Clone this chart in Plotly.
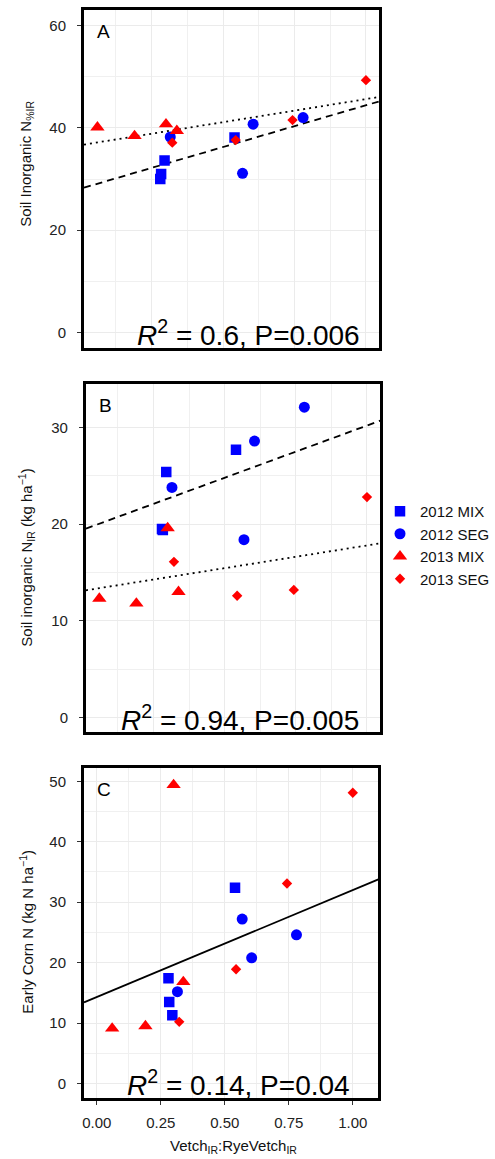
import plotly.graph_objects as go

W, H = 495, 1159

groups = ["2012 MIX", "2012 SEG", "2013 MIX", "2013 SEG"]

x_2012_mix = [0.28, 0.283, 0.295, 0.54]
x_2012_seg = [0.315, 0.568, 0.605, 0.78]
x_2013_mix = [0.06, 0.19, 0.30, 0.338]
x_2013_seg = [0.322, 0.544, 0.743, 1.0]

yA_2012_mix = [30.0, 31.0, 33.6, 38.1]
yA_2012_seg = [38.2, 31.1, 40.7, 42.0]
yA_2013_mix = [40.1, 38.4, 40.7, 39.4]
yA_2013_seg = [37.1, 37.6, 41.5, 49.3]

yB_2012_mix = [19.5, 19.4, 25.4, 27.7]
yB_2012_seg = [23.8, 18.4, 28.6, 32.1]
yB_2013_mix = [12.3, 11.8, 19.6, 13.0]
yB_2013_seg = [16.1, 12.6, 13.2, 22.8]

yC_2012_mix = [17.4, 13.5, 11.3, 32.4]
yC_2012_seg = [15.2, 27.2, 20.8, 24.6]
yC_2013_mix = [9.1, 9.5, 49.4, 16.8]
yC_2013_seg = [10.2, 18.9, 33.1, 48.1]

fitA_2012 = (28.1, 16.3)
fitA_2013 = (36.6, 9.0)
fitB_2012 = (19.4, 10.8)
fitB_2013 = (13.1, 4.7)
fitC_all = (14.3, 17.7)

stats_text = ["<i>R</i><sup>2</sup> = 0.6, P=0.006",
              "<i>R</i><sup>2</sup> = 0.94, P=0.005",
              "<i>R</i><sup>2</sup> = 0.14, P=0.04"]
panel_letters = ["A", "B", "C"]
y_titles = ["Soil Inorganic N<sub>%IR</sub>",
            "Soil inorganic N<sub>IR</sub> (kg ha<sup>\u22121</sup>)",
            "Early Corn N (kg N ha<sup>\u22121</sup>)"]
x_title = "Vetch<sub>IR</sub>:RyeVetch<sub>IR</sub>"
x_ticks = [0.0, 0.25, 0.5, 0.75, 1.0]
x_tick_labels = ["0.00", "0.25", "0.50", "0.75", "1.00"]

FONT = "Liberation Sans, Arial, sans-serif"
BLUE = "#0000FF"
RED = "#FF0000"
styles = {
    "2012 MIX": dict(symbol="square", size=10.5, color=BLUE),
    "2012 SEG": dict(symbol="circle", size=11, color=BLUE),
    "2013 MIX": dict(symbol="triangle-up", size=12.5, color=RED),
    "2013 SEG": dict(symbol="diamond", size=8, color=RED),
}

def px(x):
    return x / W

def py(y):
    return 1 - y / H

boxes = [(83, 10, 382, 348), (85, 384, 383, 732), (83, 768, 381, 1098)]
xranges = [[0.013, 1.047], [0.013, 1.047], [-0.05, 1.1]]
yranges = [[-3, 63], [-1.5, 34.5], [-2.4, 52.2]]
ydticks = [20, 10, 10]

panel_data = [
    [yA_2012_mix, yA_2012_seg, yA_2013_mix, yA_2013_seg],
    [yB_2012_mix, yB_2012_seg, yB_2013_mix, yB_2013_seg],
    [yC_2012_mix, yC_2012_seg, yC_2013_mix, yC_2013_seg],
]
xs = [x_2012_mix, x_2012_seg, x_2013_mix, x_2013_seg]
fits = [
    [(fitA_2012, "7px,5px"), (fitA_2013, "2px,4px")],
    [(fitB_2012, "7px,5px"), (fitB_2013, "2px,4px")],
    [(fitC_all, "solid")],
]

fig = go.Figure()
layout = dict(
    width=W, height=H,
    margin=dict(l=0, r=0, t=0, b=0),
    paper_bgcolor="white", plot_bgcolor="white",
    font=dict(family=FONT, size=15, color="#222"),
    showlegend=True,
    legend=dict(x=px(383), y=py(545), xanchor="left", yanchor="middle",
                font=dict(size=15, color="#111"), bgcolor="rgba(0,0,0,0)",
                itemwidth=30, tracegroupgap=0),
)
annotations = []

for i in range(3):
    l, t, r, b = boxes[i]
    xa = "x" if i == 0 else f"x{i+1}"
    ya = "y" if i == 0 else f"y{i+1}"
    xkey = "xaxis" if i == 0 else f"xaxis{i+1}"
    ykey = "yaxis" if i == 0 else f"yaxis{i+1}"
    last = i == 2
    layout[xkey] = dict(
        domain=[px(l), px(r)], range=xranges[i], anchor=ya,
        tickmode="array", tickvals=x_ticks, ticktext=x_tick_labels,
        showticklabels=last, ticks="outside" if last else "",
        ticklen=4, tickwidth=1, tickcolor="#333", ticklabelstandoff=5,
        tickfont=dict(size=15, color="#222"),
        showgrid=True, gridcolor="#EBEBEB", gridwidth=1.4,
        minor=dict(dtick=0.125, tick0=0, showgrid=True, gridcolor="#F0F0F0",
                   gridwidth=1, ticks=""),
        showline=True, linecolor="black", linewidth=3, mirror=True,
        zeroline=False,
    )
    layout[ykey] = dict(
        domain=[py(b), py(t)], range=yranges[i], anchor=xa,
        dtick=ydticks[i], tick0=0, ticks="outside", ticklen=4, tickwidth=1,
        tickcolor="#333", tickfont=dict(size=15, color="#222"),
        ticklabelstandoff=8,
        showgrid=True, gridcolor="#EBEBEB", gridwidth=1.4,
        minor=dict(dtick=ydticks[i] / 2, tick0=0, showgrid=True,
                   gridcolor="#F0F0F0", gridwidth=1, ticks=""),
        showline=True, linecolor="black", linewidth=3, mirror=True,
        zeroline=False,
    )
    for (icpt, slope), dash in fits[i]:
        xr = xranges[i]
        fig.add_trace(go.Scatter(
            x=xr, y=[icpt + slope * xv for xv in xr], mode="lines",
            line=dict(color="black", width=1.8, dash=dash),
            xaxis=xa, yaxis=ya, showlegend=False, hoverinfo="skip"))
    for g, xv, yv in zip(groups, xs, panel_data[i]):
        st = styles[g]
        fig.add_trace(go.Scatter(
            x=xv, y=yv, mode="markers", name=g,
            marker=dict(symbol=st["symbol"], size=st["size"], color=st["color"],
                        line=dict(width=0)),
            xaxis=xa, yaxis=ya, showlegend=(i == 0), legendgroup=g))
    annotations.append(dict(
        text=panel_letters[i], xref="paper", yref="paper",
        x=px(l + 11), y=py(t + 21), xanchor="left", yanchor="middle",
        showarrow=False, font=dict(size=19, color="black")))
    cx = [249.5, 240.5, 239.5][i]
    annotations.append(dict(
        text=stats_text[i], xref="paper", yref=ya, x=px(cx), y=0,
        xanchor="center", yanchor="middle", showarrow=False,
        font=dict(size=28, color="black")))
    cy = [164, 558, 932][i]
    annotations.append(dict(
        text=y_titles[i], xref="paper", yref="paper",
        x=px(24), y=py(cy), xanchor="center", yanchor="middle",
        textangle=-90, showarrow=False, font=dict(size=15, color="#111")))

annotations.append(dict(
    text=x_title, xref="paper", yref="paper", x=px(234), y=py(1146),
    xanchor="center", yanchor="middle", showarrow=False,
    font=dict(size=15, color="#111")))

layout["annotations"] = annotations
fig.update_layout(**layout)
fig.write_html("out.html")
